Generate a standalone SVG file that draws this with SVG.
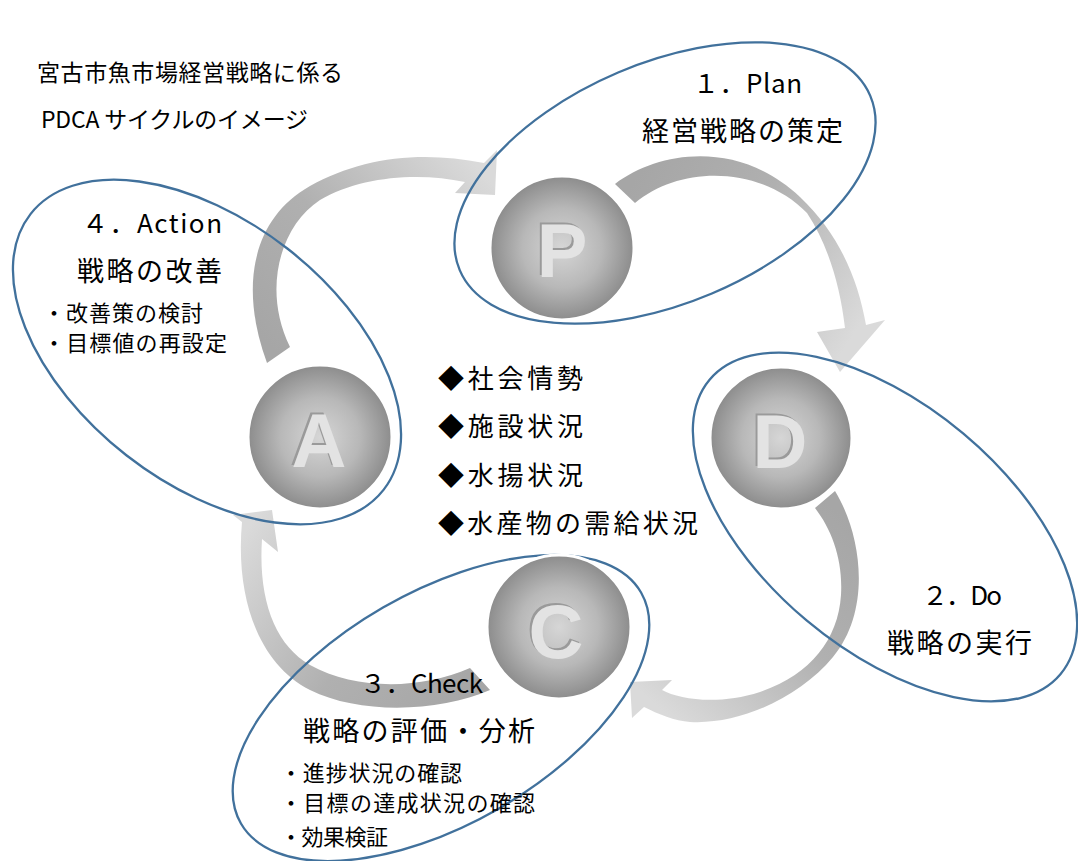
<svg xmlns="http://www.w3.org/2000/svg" width="1078" height="861" viewBox="0 0 1078 861">
<style>
.t{font-family:"Noto Sans CJK JP","Liberation Sans",sans-serif;fill:#000}
.ell{fill:none;stroke:#41719C;stroke-width:2.3}
.sph{fill:url(#sg);stroke:#fff;stroke-width:3}
.ltr{font-family:"Liberation Sans",Arial,sans-serif;font-weight:bold;font-size:76px;text-anchor:middle}
.lsh{fill:#9a9a9a}
.lfg{fill:#e3e3e3}
</style>
<defs>
<radialGradient id="sg" cx="50%" cy="50%" r="50%">
<stop offset="0" stop-color="#d6d6d6"/>
<stop offset="0.55" stop-color="#b8b8b8"/>
<stop offset="1" stop-color="#8c8c8c"/>
</radialGradient>
<linearGradient id="g1" gradientUnits="userSpaceOnUse" x1="625" y1="195" x2="850" y2="340">
<stop offset="0" stop-color="#a6a6a6"/><stop offset="0.45" stop-color="#b0b0b0"/><stop offset="1" stop-color="#dadada"/>
</linearGradient>
<linearGradient id="g2" gradientUnits="userSpaceOnUse" x1="825" y1="500" x2="650" y2="700">
<stop offset="0" stop-color="#a6a6a6"/><stop offset="0.45" stop-color="#b0b0b0"/><stop offset="1" stop-color="#dadada"/>
</linearGradient>
<linearGradient id="g3" gradientUnits="userSpaceOnUse" x1="480" y1="680" x2="250" y2="525">
<stop offset="0" stop-color="#a6a6a6"/><stop offset="0.45" stop-color="#b0b0b0"/><stop offset="1" stop-color="#dadada"/>
</linearGradient>
<linearGradient id="g4" gradientUnits="userSpaceOnUse" x1="278" y1="355" x2="480" y2="170">
<stop offset="0" stop-color="#a6a6a6"/><stop offset="0.45" stop-color="#b0b0b0"/><stop offset="1" stop-color="#dadada"/>
</linearGradient>
</defs>
<rect width="1078" height="861" fill="#fff"/>

<g id="connectors">
<path id="arrow-p-d" fill="url(#g1)" d="M615,184 C660,150 740,140 800,197 C840,235 858,280 866,325 L885,320 L840,372 L817,332 L845,328 C840,285 828,245 807,213 C760,165 680,165 635,203 Z"/>
<path id="arrow-d-c" fill="url(#g2)" d="M835,491 C862,535 872,610 833,657 C800,697 740,725 690,722 C675,721 658,714 644,707 L632,718 L630,682 L672,680 L662,690 C680,700 720,705 760,692 C810,675 838,640 841,595 C843,560 832,530 815,508 Z"/>
<path id="arrow-c-a" fill="url(#g3)" d="M490,690 C440,712 360,715 310,690 C260,665 235,600 242,522 L233,515 L272,510 L278,552 L262,539 C258,600 275,645 310,665 C355,690 420,690 470,668 Z"/>
<path id="arrow-a-p" fill="url(#g4)" d="M267,363 C240,290 250,220 310,186 C360,158 420,150 484,163 L497,150 L495,195 L455,193 L465,182 C420,172 360,176 320,200 C280,226 262,290 290,347 Z"/>
</g>

<g id="node-plan">
<ellipse class="ell" cx="665" cy="183" rx="223" ry="120" transform="rotate(-23 665 183)"/>
<circle class="sph" cx="562" cy="248" r="72"/>
<text class="ltr lsh" x="560" y="275">P</text>
<text class="ltr lfg" x="562" y="277">P</text>
<text class="t" x="693" y="93" font-size="26" textLength="109">１．Plan</text>
<text class="t" x="642" y="141" font-size="27" textLength="201">経営戦略の策定</text>
</g>

<g id="node-do">
<ellipse class="ell" cx="885" cy="527" rx="229" ry="122" transform="rotate(40 885 527)"/>
<circle class="sph" cx="781" cy="438" r="71"/>
<text class="ltr lsh" x="778" y="466">D</text>
<text class="ltr lfg" x="780" y="468">D</text>
<text class="t" x="922" y="605" font-size="26" textLength="80">２．Do</text>
<text class="t" x="887" y="653" font-size="27" textLength="145">戦略の実行</text>
</g>

<g id="node-check">
<ellipse class="ell" cx="441" cy="708" rx="231" ry="116" transform="rotate(-30 441 708)"/>
<circle class="sph" cx="559" cy="627" r="72"/>
<text class="ltr lsh" x="554" y="656">C</text>
<text class="ltr lfg" x="556" y="658">C</text>
<text class="t" x="360" y="693" font-size="26" textLength="123">３．Check</text>
<text class="t" x="303" y="741" font-size="27" textLength="232">戦略の評価・分析</text>
<text class="t" x="280" y="781" font-size="22" textLength="182">・進捗状況の確認</text>
<text class="t" x="280" y="811" font-size="22" textLength="255">・目標の達成状況の確認</text>
<text class="t" x="280" y="845" font-size="22" textLength="108">・効果検証</text>
</g>

<g id="node-action">
<ellipse class="ell" cx="207" cy="352" rx="224" ry="131" transform="rotate(38 207 352)"/>
<circle class="sph" cx="320" cy="437" r="72"/>
<text class="ltr lsh" x="317" y="465">A</text>
<text class="ltr lfg" x="319" y="467">A</text>
<text class="t" x="82" y="233" font-size="26" textLength="140">４．Action</text>
<text class="t" x="77" y="281" font-size="27" textLength="145">戦略の改善</text>
<text class="t" x="43" y="321" font-size="22" textLength="160">・改善策の検討</text>
<text class="t" x="43" y="351" font-size="22" textLength="184">・目標値の再設定</text>
</g>

<g id="title">
<text class="t" x="37" y="81" font-size="23" textLength="306">宮古市魚市場経営戦略に係る</text>
<text class="t" x="41" y="128" font-size="23" textLength="267">PDCA サイクルのイメージ</text>
</g>

<g id="factors">
<text class="t" x="438" y="388" font-size="26" textLength="145">◆社会情勢</text>
<text class="t" x="438" y="436" font-size="26" textLength="145">◆施設状況</text>
<text class="t" x="438" y="485" font-size="26" textLength="145">◆水揚状況</text>
<text class="t" x="438" y="533" font-size="26" textLength="260">◆水産物の需給状況</text>
</g>
</svg>
